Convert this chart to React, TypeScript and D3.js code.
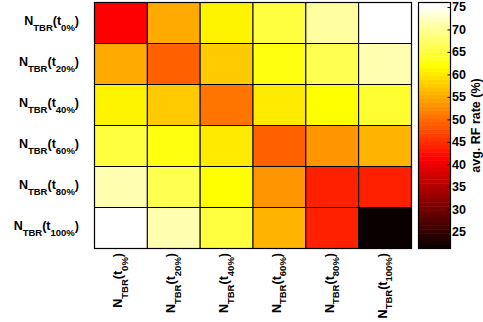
import React from "react";
import * as d3 from "d3";

const labelSubs = ["0%", "20%", "40%", "60%", "80%", "100%"];

const row0 = [41.5, 55.3, 61.4, 65.6, 70.7, 76.1];
const row1 = [55.3, 48.8, 57.9, 63.2, 66.2, 71.0];
const row2 = [61.2, 57.6, 51.2, 60.2, 62.4, 64.6];
const row3 = [65.6, 62.8, 60.5, 48.8, 53.2, 56.0];
const row4 = [71.0, 66.2, 62.4, 53.2, 43.9, 44.1];
const row5 = [76.1, 71.0, 65.1, 56.4, 44.1, 21.4];
const rows = [row0, row1, row2, row3, row4, row5];

const colorTicks = [25, 30, 35, 40, 45, 50, 55, 60, 65, 70, 75];
const cMin = 21.4;
const cMax = 76.1;

// MATLAB hot(64)
function hot64(): string[] {
  const n = 64;
  const n1 = 24;
  const n2 = 24;
  const out: string[] = [];
  for (let i = 0; i < n; i++) {
    const r = i < n1 ? (i + 1) / n1 : 1;
    const g = i < n1 ? 0 : i < n1 + n2 ? (i - n1 + 1) / n2 : 1;
    const b = i < n1 + n2 ? 0 : (i - n1 - n2 + 1) / (n - n1 - n2);
    out.push(d3.rgb(r * 255, g * 255, b * 255).formatHex());
  }
  return out;
}
const hotColors = hot64();

const FONT = "'Liberation Sans', Arial, Helvetica, sans-serif";
const MAIN = 12.5;
const SUB = 9.5;
const SHIFT = 5.5;

function Label({ sub }: { sub: string }) {
  return (
    <>
      <tspan fontSize={MAIN}>N</tspan>
      <tspan fontSize={SUB} dy={SHIFT}>TBR</tspan>
      <tspan fontSize={MAIN} dy={-SHIFT}>(t</tspan>
      <tspan fontSize={SUB} dy={SHIFT}>{sub}</tspan>
      <tspan fontSize={MAIN} dy={-SHIFT}>)</tspan>
    </>
  );
}

export default function App() {
  const W = 483;
  const H = 322;
  const idx = d3.range(6);
  const x = d3.scaleBand<number>().domain(idx).range([94.5, 411.5]);
  const y = d3.scaleBand<number>().domain(idx).range([2.5, 248.5]);
  const color = d3.scaleQuantize<string>().domain([cMin, cMax]).range(hotColors);
  const barX0 = 418.5;
  const barX1 = 450.5;
  const yBar = d3.scaleLinear().domain([cMin, cMax]).range([248.5, 2.5]);
  const step = (cMax - cMin) / 64;

  return (
    <svg
      width={W}
      height={H}
      style={{ position: "absolute", left: 0, top: 0, background: "#fff" }}
      fontFamily={FONT}
      fontWeight="bold"
    >
      <rect x={0} y={0} width={W} height={H} fill="#fff" />
      {rows.map((row, ri) =>
        row.map((v, ci) => (
          <rect
            key={`${ri}-${ci}`}
            x={x(ci)}
            y={y(ri)}
            width={x.bandwidth()}
            height={y.bandwidth()}
            fill={color(v)}
            stroke="#000"
            strokeWidth={1}
          />
        ))
      )}
      <rect
        x={94.5}
        y={2.5}
        width={317}
        height={246}
        fill="none"
        stroke="#000"
        strokeWidth={1.2}
      />
      {idx.map((i) => (
        <text
          key={`yl${i}`}
          x={79}
          y={(y(i) as number) + y.bandwidth() / 2 + 2}
          textAnchor="end"
          fill="#000"
        >
          <Label sub={labelSubs[i]} />
        </text>
      ))}
      {idx.map((i) => (
        <text
          key={`xl${i}`}
          transform={`translate(${(x(i) as number) + x.bandwidth() / 2 + 1.5},253) rotate(-90)`}
          textAnchor="end"
          fill="#000"
        >
          <Label sub={labelSubs[i]} />
        </text>
      ))}
      {hotColors.map((c, i) => {
        const v0 = cMin + i * step;
        const v1 = v0 + step;
        return (
          <rect
            key={`cb${i}`}
            x={barX0}
            y={yBar(v1)}
            width={barX1 - barX0}
            height={yBar(v0) - yBar(v1) + 0.5}
            fill={c}
          />
        );
      })}
      <rect
        x={barX0}
        y={2.5}
        width={barX1 - barX0}
        height={246}
        fill="none"
        stroke="#000"
        strokeWidth={1.2}
      />
      {colorTicks.map((t) => (
        <g key={`ct${t}`}>
          <line x1={barX1 - 3} x2={barX1} y1={yBar(t)} y2={yBar(t)} stroke="#000" />
          <text
            x={452}
            y={yBar(t)}
            dominantBaseline="central"
            fontSize={MAIN}
            fill="#000"
          >
            {t}
          </text>
        </g>
      ))}
      <text
        transform={`translate(480,${(2.5 + 248.5) / 2}) rotate(-90)`}
        textAnchor="middle"
        fontSize={MAIN}
        fill="#000"
      >
        avg. RF rate (%)
      </text>
    </svg>
  );
}
